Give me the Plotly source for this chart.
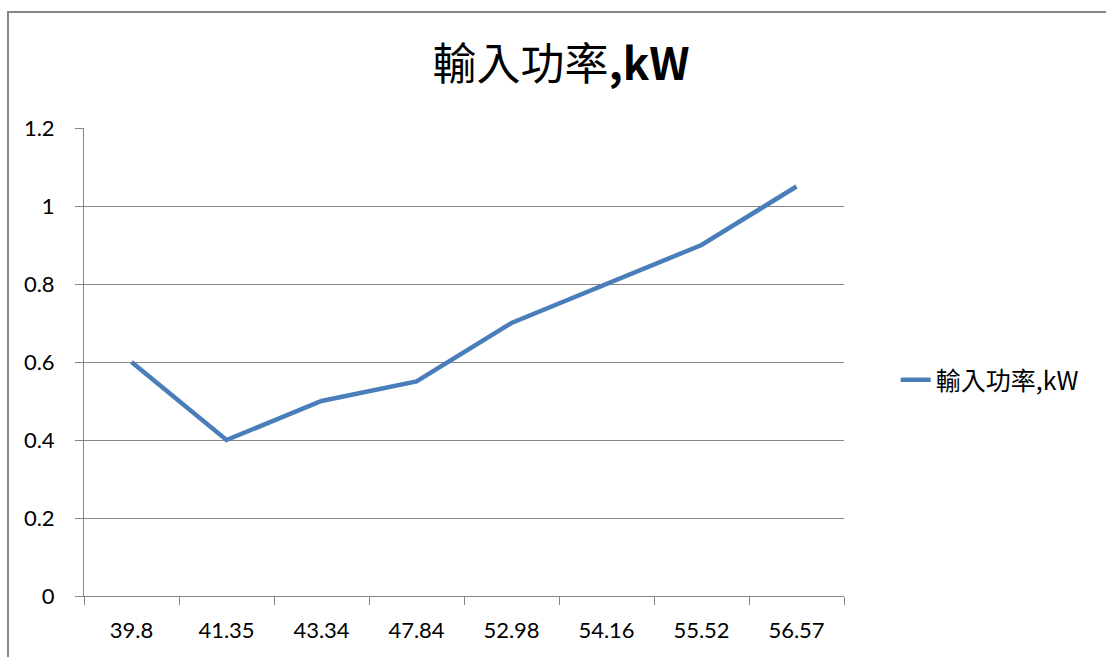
import plotly.graph_objects as go

# Category labels along the x axis and the input power series (kW)
categories = ["39.8", "41.35", "43.34", "47.84", "52.98", "54.16", "55.52", "56.57"]
power_kw = [0.6, 0.4, 0.5, 0.55, 0.7, 0.8, 0.9, 1.05]
series_name = "輸入功率,kW"
y_ticks = [0, 0.2, 0.4, 0.6, 0.8, 1, 1.2]

grid_color = "#868686"
line_color = "#4A7EBB"
label_font = "Lato, 'Noto Sans CJK TC', sans-serif"
cjk_font = "'Noto Sans CJK TC', Lato, sans-serif"

fig = go.Figure()
fig.add_trace(go.Scatter(
    x=categories,
    y=power_kw,
    mode="lines",
    name=series_name,
    line=dict(color=line_color, width=4.5),
))

fig.update_layout(
    width=1106,
    height=657,
    margin=dict(l=84, r=262, t=128, b=61),
    paper_bgcolor="white",
    plot_bgcolor="white",
    font=dict(family=label_font, size=22, color="#000000"),
    title=dict(
        text="輸入功率<b>,kW</b>",
        x=561 / 1106,
        xanchor="center",
        xref="container",
        y=1 - 65 / 657,
        yanchor="middle",
        font=dict(family=cjk_font, size=44, color="#000000"),
    ),
    showlegend=True,
    legend=dict(
        x=1.068,
        xanchor="left",
        y=(596 - 380) / 468,
        yanchor="middle",
        font=dict(family=cjk_font, size=25, color="#000000"),
        bgcolor="rgba(0,0,0,0)",
    ),
    xaxis=dict(
        type="category",
        range=[-0.5, len(categories) - 0.5],
        tickson="boundaries",
        ticks="outside",
        ticklen=8,
        tickcolor=grid_color,
        tickwidth=1,
        showline=True,
        linecolor=grid_color,
        linewidth=1,
        showgrid=False,
        ticklabelstandoff=15,
        tickfont=dict(size=22),
    ),
    yaxis=dict(
        range=[0, 1.2],
        tickvals=y_ticks,
        ticktext=[f"{v:g}" for v in y_ticks],
        ticks="outside",
        ticklen=8,
        tickcolor=grid_color,
        tickwidth=1,
        showline=True,
        linecolor=grid_color,
        linewidth=1,
        showgrid=True,
        gridcolor=grid_color,
        gridwidth=1,
        zeroline=False,
        ticklabelstandoff=16,
        tickfont=dict(size=22),
    ),
    shapes=[
        dict(
            type="rect",
            xref="paper",
            yref="paper",
            x0=(8 - 84) / 760,
            x1=1.6,
            y0=-0.5,
            y1=(596 - 12) / 468,
            line=dict(color=grid_color, width=2),
            fillcolor="rgba(0,0,0,0)",
            layer="below",
        )
    ],
)

fig.write_html("out.html")
